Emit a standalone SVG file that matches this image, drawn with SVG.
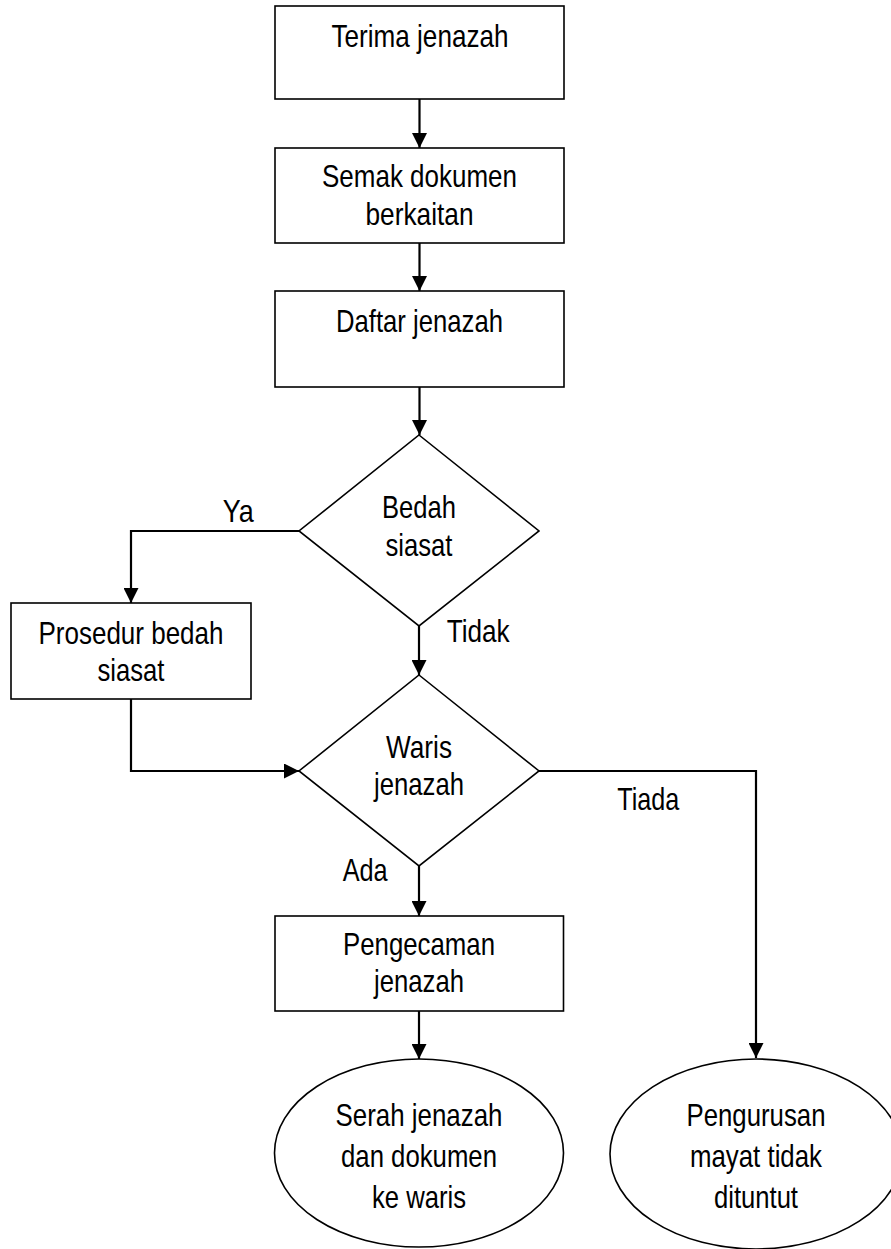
<svg xmlns="http://www.w3.org/2000/svg" width="891" height="1249" viewBox="0 0 891 1249">
  <style>
    .shape { fill: #ffffff; stroke: #000000; stroke-width: 1.6; }
    .conn { fill: none; stroke: #000000; stroke-width: 2.2; }
    text { font-family: "Liberation Sans", Arial, sans-serif; font-size: 30.5px; fill: #000000; }
    .c { text-anchor: middle; }
  </style>
  <defs>
    <marker id="arrow" markerUnits="userSpaceOnUse" markerWidth="16" markerHeight="15" refX="15" refY="7.5" orient="auto">
      <path d="M0,0 L15,7.5 L0,15 z" fill="#000000"/>
    </marker>
  </defs>
  <rect width="891" height="1249" fill="#ffffff"/>

  <g id="connectors">
    <path class="conn" d="M419.5,99 L419.5,148" marker-end="url(#arrow)"/>
    <path class="conn" d="M419.5,243 L419.5,291" marker-end="url(#arrow)"/>
    <path class="conn" d="M419.5,387 L419.5,435" marker-end="url(#arrow)"/>
    <path class="conn" d="M299,531 L131,531 L131,603" marker-end="url(#arrow)"/>
    <path class="conn" d="M419,626 L419,675" marker-end="url(#arrow)"/>
    <path class="conn" d="M131,699 L131,771 L299,771" marker-end="url(#arrow)"/>
    <path class="conn" d="M419,866 L419,916" marker-end="url(#arrow)"/>
    <path class="conn" d="M539,771 L756,771 L756,1058" marker-end="url(#arrow)"/>
    <path class="conn" d="M419,1011 L419,1059" marker-end="url(#arrow)"/>
    <text x="222.7" y="522" textLength="31" lengthAdjust="spacingAndGlyphs">Ya</text>
    <text x="446.7" y="642" textLength="63" lengthAdjust="spacingAndGlyphs">Tidak</text>
    <text x="617.3" y="810" textLength="62" lengthAdjust="spacingAndGlyphs">Tiada</text>
    <text x="342.7" y="881" textLength="45" lengthAdjust="spacingAndGlyphs">Ada</text>
  </g>

  <g id="terima">
    <rect class="shape" x="275" y="6" width="289" height="93"/>
    <text class="c" x="420" y="47" textLength="177" lengthAdjust="spacingAndGlyphs">Terima jenazah</text>
  </g>

  <g id="semak">
    <rect class="shape" x="275" y="148" width="289" height="95"/>
    <text class="c" x="419.5" y="187" textLength="195" lengthAdjust="spacingAndGlyphs">Semak dokumen</text>
    <text class="c" x="419.5" y="224.5" textLength="108" lengthAdjust="spacingAndGlyphs">berkaitan</text>
  </g>

  <g id="daftar">
    <rect class="shape" x="275" y="291" width="289" height="96"/>
    <text class="c" x="419.5" y="332" textLength="167" lengthAdjust="spacingAndGlyphs">Daftar jenazah</text>
  </g>

  <g id="bedah">
    <polygon class="shape" points="419,435 539,531 419,626 299,531"/>
    <text class="c" x="419" y="518" textLength="74" lengthAdjust="spacingAndGlyphs">Bedah</text>
    <text class="c" x="419" y="555.5" textLength="67" lengthAdjust="spacingAndGlyphs">siasat</text>
  </g>

  <g id="prosedur">
    <rect class="shape" x="11" y="603" width="240" height="96"/>
    <text class="c" x="131" y="643.5" textLength="185" lengthAdjust="spacingAndGlyphs">Prosedur bedah</text>
    <text class="c" x="131" y="680.5" textLength="67" lengthAdjust="spacingAndGlyphs">siasat</text>
  </g>

  <g id="waris">
    <polygon class="shape" points="419,675 539,771 419,866 299,771"/>
    <text class="c" x="419" y="757.5" textLength="66" lengthAdjust="spacingAndGlyphs">Waris</text>
    <text class="c" x="419" y="795" textLength="90" lengthAdjust="spacingAndGlyphs">jenazah</text>
  </g>

  <g id="pengecaman">
    <rect class="shape" x="275" y="916" width="288.5" height="95"/>
    <text class="c" x="419" y="955" textLength="152" lengthAdjust="spacingAndGlyphs">Pengecaman</text>
    <text class="c" x="419" y="992" textLength="90" lengthAdjust="spacingAndGlyphs">jenazah</text>
  </g>

  <g id="serah">
    <ellipse class="shape" cx="419" cy="1153" rx="144.5" ry="94"/>
    <text class="c" x="419" y="1126" textLength="167" lengthAdjust="spacingAndGlyphs">Serah jenazah</text>
    <text class="c" x="419" y="1167" textLength="156" lengthAdjust="spacingAndGlyphs">dan dokumen</text>
    <text class="c" x="419" y="1208" textLength="94" lengthAdjust="spacingAndGlyphs">ke waris</text>
  </g>

  <g id="pengurusan">
    <ellipse class="shape" cx="756" cy="1154" rx="146" ry="95"/>
    <text class="c" x="756" y="1126" textLength="139" lengthAdjust="spacingAndGlyphs">Pengurusan</text>
    <text class="c" x="756" y="1167" textLength="132" lengthAdjust="spacingAndGlyphs">mayat tidak</text>
    <text class="c" x="756" y="1208" textLength="84" lengthAdjust="spacingAndGlyphs">dituntut</text>
  </g>
</svg>
